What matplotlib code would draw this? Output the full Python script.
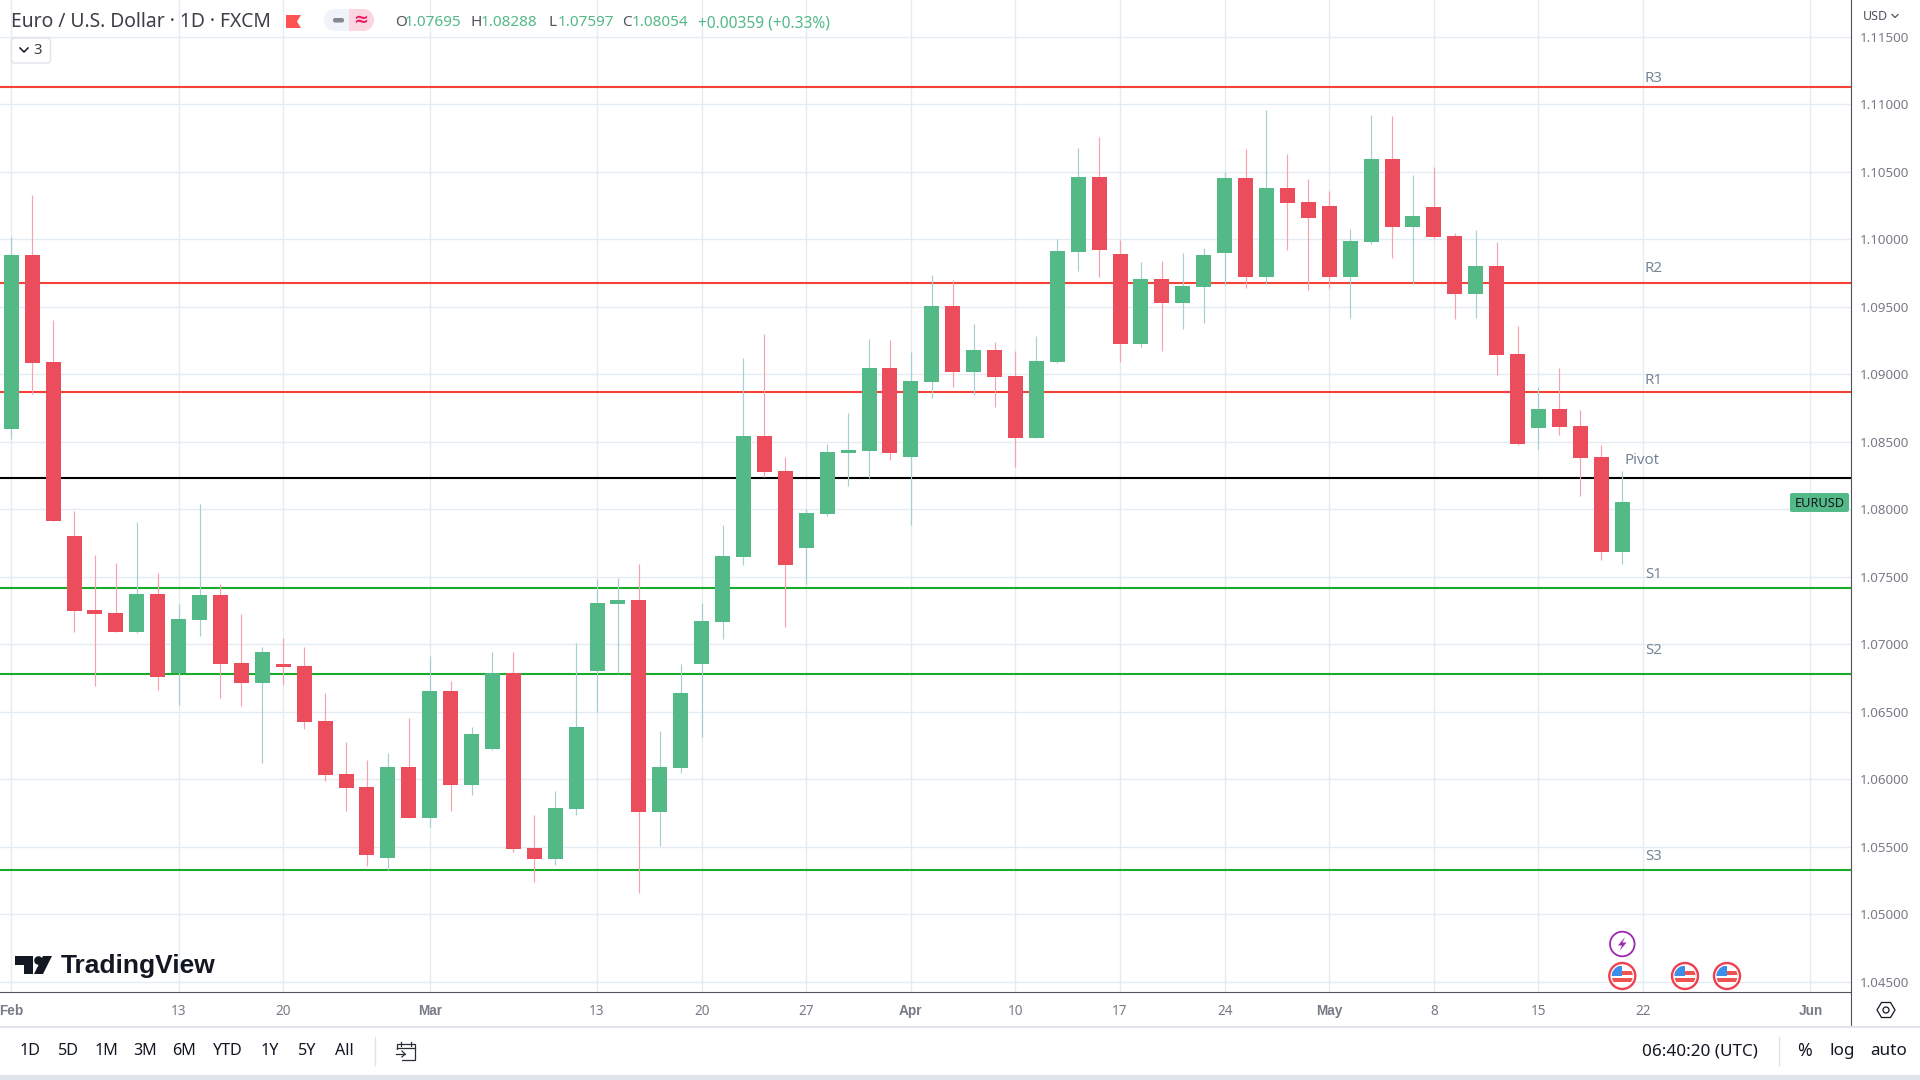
#!/usr/bin/env python3
import matplotlib
matplotlib.use('Agg')
import matplotlib.pyplot as plt
from matplotlib.patches import Circle, Polygon, Rectangle, FancyBboxPatch

# daily candles, EUR/USD
opens = [1.08598, 1.09884, 1.09091, 1.07802, 1.07254, 1.07232, 1.07091, 1.07373, 1.06784, 1.07180,
         1.07365, 1.06862, 1.06714, 1.06854, 1.06840, 1.06432, 1.06040, 1.05943, 1.05418, 1.06092,
         1.05714, 1.06654, 1.05958, 1.06225, 1.06788, 1.05492, 1.05410, 1.05781, 1.06803, 1.07299,
         1.07328, 1.05758, 1.06084, 1.06854, 1.07165, 1.07647, 1.08543, 1.08284, 1.07714, 1.07965,
         1.08417, 1.08432, 1.09047, 1.08387, 1.08943, 1.09506, 1.09017, 1.09180, 1.08987, 1.08528,
         1.09091, 1.09906, 1.10461, 1.09891, 1.09224, 1.09706, 1.09528, 1.09646, 1.09898, 1.10454,
         1.09721, 1.10380, 1.10276, 1.10246, 1.09721, 1.09980, 1.10594, 1.10091, 1.10239, 1.10024,
         1.09595, 1.09802, 1.09150, 1.08602, 1.08743, 1.08617, 1.08387, 1.07684]
highs = [1.10014, 1.10328, 1.09402, 1.07988, 1.07662, 1.07602, 1.07906, 1.07528, 1.07299, 1.08039,
         1.07447, 1.07225, 1.06980, 1.07047, 1.06980, 1.06640, 1.06277, 1.06143, 1.06195, 1.06454,
         1.06914, 1.06729, 1.06388, 1.06943, 1.06943, 1.05736, 1.05914, 1.07010, 1.07484, 1.07491,
         1.07595, 1.06358, 1.06854, 1.07306, 1.07884, 1.09121, 1.09298, 1.08387, 1.08002, 1.08484,
         1.08713, 1.09261, 1.09254, 1.09165, 1.09735, 1.09698, 1.09372, 1.09239, 1.09172, 1.09284,
         1.10002, 1.10676, 1.10757, 1.09995, 1.09832, 1.09839, 1.09898, 1.09935, 1.10498, 1.10669,
         1.10957, 1.10631, 1.10446, 1.10357, 1.10076, 1.10920, 1.10913, 1.10476, 1.10535, 1.10046,
         1.10069, 1.09980, 1.09358, 1.08906, 1.09047, 1.08736, 1.08476, 1.08284]
lows = [1.08521, 1.08854, 1.07914, 1.07091, 1.06692, 1.07091, 1.07084, 1.06662, 1.06551, 1.07062,
        1.06603, 1.06543, 1.06121, 1.06699, 1.06373, 1.05988, 1.05766, 1.05358, 1.05329, 1.05714,
        1.05647, 1.05766, 1.05884, 1.06217, 1.05462, 1.05240, 1.05366, 1.05736, 1.06499, 1.06788,
        1.05158, 1.05506, 1.06047, 1.06314, 1.07040, 1.07588, 1.08239, 1.07128, 1.07447, 1.07951,
        1.08173, 1.08232, 1.08365, 1.07884, 1.08824, 1.08906, 1.08847, 1.08758, 1.08313, 1.08528,
        1.09084, 1.09765, 1.09721, 1.09091, 1.09202, 1.09172, 1.09335, 1.09380, 1.09661, 1.09639,
        1.09669, 1.09920, 1.09624, 1.09639, 1.09417, 1.09965, 1.09861, 1.09669, 1.10002, 1.09409,
        1.09417, 1.08995, 1.08476, 1.08447, 1.08550, 1.08099, 1.07625, 1.07595]
closes = [1.09884, 1.09084, 1.07914, 1.07247, 1.07225, 1.07091, 1.07373, 1.06758, 1.07188, 1.07365,
          1.06854, 1.06714, 1.06943, 1.06832, 1.06425, 1.06032, 1.05936, 1.05440, 1.06092, 1.05714,
          1.06654, 1.05958, 1.06336, 1.06788, 1.05484, 1.05410, 1.05788, 1.06388, 1.07306, 1.07328,
          1.05758, 1.06092, 1.06640, 1.07173, 1.07654, 1.08543, 1.08276, 1.07588, 1.07973, 1.08424,
          1.08439, 1.09047, 1.08417, 1.08950, 1.09506, 1.09017, 1.09180, 1.08980, 1.08528, 1.09098,
          1.09913, 1.10461, 1.09920, 1.09224, 1.09706, 1.09528, 1.09654, 1.09884, 1.10454, 1.09721,
          1.10380, 1.10269, 1.10158, 1.09721, 1.09987, 1.10594, 1.10091, 1.10172, 1.10017, 1.09595,
          1.09802, 1.09143, 1.08484, 1.08743, 1.08610, 1.08380, 1.07684, 1.08054]

level_names = ['R3', 'R2', 'R1', 'Pivot', 'S1', 'S2', 'S3']
level_values = [1.11128, 1.09676, 1.08869, 1.08232, 1.07417, 1.06780, 1.05329]
level_colors = ['#f44336', '#f44336', '#f44336', '#000000', '#1aab2b', '#1aab2b', '#1aab2b']

price_ticks = [1.045, 1.05, 1.055, 1.06, 1.065, 1.07, 1.075, 1.08, 1.085, 1.09, 1.095, 1.10, 1.105, 1.11, 1.115]
date_bars = [0, 8, 13, 20, 28, 33, 38, 43, 48, 53, 58, 63, 68, 73, 78, 86]
date_labels = ['Feb', '13', '20', 'Mar', '13', '20', '27', 'Apr', '10', '17', '24', 'May', '8', '15', '22', 'Jun']
month_labels = ['Feb', 'Mar', 'Apr', 'May', 'Jun']
range_buttons = ['1D', '5D', '1M', '3M', '6M', 'YTD', '1Y', '5Y', 'All']
range_button_x = [30, 68, 106, 145, 184, 228, 270, 307, 344]
ohlc_header = [('O', '1.07695'), ('H', '1.08288'), ('L', '1.07597'), ('C', '1.08054')]

UP = '#53b987'
DOWN = '#eb4d5c'
UP_WICK = '#a5cfd0'
DOWN_WICK = '#f7a1ad'
GRID = '#e3ecf2'
AXIS_TEXT = '#787b86'
DARK = '#131722'
FONT = 'Noto Sans'
BOLD_FONT = 'Liberation Sans'

plt.rcParams['font.family'] = [FONT, 'DejaVu Sans']

W, H = 1920, 1080
fig = plt.figure(figsize=(W / 100, H / 100), dpi=100, facecolor='white')

# price pane
ax = fig.add_axes([0, (H - 992) / H, 1851 / W, 992 / H])
ax.set_xlim(-0.54, 87.94)
ax.set_ylim(1.04425, 1.11772)
ax.set_axisbelow(True)
ax.grid(True, color=GRID, lw=1.0)
for s in ax.spines.values():
    s.set_visible(False)

ax.set_yticks(price_ticks)
ax.set_yticklabels([f'{p:.5f}' for p in price_ticks])
ax.yaxis.tick_right()
ax.tick_params(axis='y', length=0, pad=6.5, labelsize=9.6, labelcolor=AXIS_TEXT)
ax.set_xticks(date_bars)
ax.set_xticklabels(date_labels)
ax.tick_params(axis='x', length=0, pad=8.3, labelsize=9.8, labelcolor=AXIS_TEXT)
for lab in ax.get_xticklabels():
    if lab.get_text() in month_labels:
        lab.set_fontfamily(BOLD_FONT)
        lab.set_fontweight('bold')

for val, col in zip(level_values, level_colors):
    ax.axhline(val, color=col, lw=1.5, zorder=2)

for i, (o, h, l, c) in enumerate(zip(opens, highs, lows, closes)):
    up = c >= o
    ax.vlines(i, l, h, color=UP_WICK if up else DOWN_WICK, lw=0.85, zorder=3)
    ax.bar(i, abs(c - o), bottom=min(o, c), width=0.717, color=UP if up else DOWN, lw=0, zorder=4)

# everything around the pane is placed in pixels on a full overlay
ov = fig.add_axes([0, 0, 1, 1], facecolor='none')
ov.set_xlim(0, W)
ov.set_ylim(H, 0)
ov.axis('off')

level_label_y = [78, 268, 380, 460, 574, 650, 857]
for name, y in zip(level_names, level_label_y):
    x = 1645 if name != 'Pivot' else 1625
    ov.text(x, y, name, color='#758696', fontsize=10.8, ha='left', va='center')

ov.plot([0, 1851], [992, 992], color='#50535e', lw=0.8)
ov.plot([1851, 1851], [0, 1026], color='#50535e', lw=0.8)
ov.plot([0, W], [1026.5, 1026.5], color='#e0e3eb', lw=1.5)
ov.add_patch(Rectangle((0, 1075), W, 5, color='#e0e3eb', lw=0))
ov.plot([375, 375], [1037, 1065], color='#e0e3eb', lw=1)
ov.plot([1779, 1779], [1037, 1065], color='#e0e3eb', lw=1)

# header
ov.text(11, 22, 'Euro / U.S. Dollar · 1D · FXCM', color='#3d3f48', fontsize=13.9, ha='left', va='center')
ov.add_patch(Polygon([(286, 15), (301, 15), (297, 21.5), (301, 28), (286, 28)], color='#ff5252', lw=0))
ov.add_patch(Rectangle((335, 9), 14, 22, color='#f0f3fa', lw=0))
ov.add_patch(Circle((335, 20), 11, color='#f0f3fa', lw=0))
ov.add_patch(Rectangle((349, 9), 14, 22, color='#fbd5e0', lw=0))
ov.add_patch(Circle((363, 20), 11, color='#fbd5e0', lw=0))
ov.add_patch(FancyBboxPatch((333, 18), 11, 4.5, boxstyle='round,pad=0,rounding_size=2', color='#868993', lw=0))
ov.text(361, 20, '≈', color='#e91e63', fontsize=13, ha='center', va='center', fontweight='bold')

header_x = [395, 471, 548, 622]
for (k, v), x in zip(ohlc_header, header_x):
    ov.text(x, 23, k, color='#50535e', fontsize=11, ha='left', va='center')
    ov.text(x + 10, 23, v, color=UP, fontsize=11, ha='left', va='center')
ov.text(698, 23, '+0.00359 (+0.33%)', color=UP, fontsize=11.2, ha='left', va='center')

ov.add_patch(FancyBboxPatch((11.5, 38), 39, 25, boxstyle='round,pad=0,rounding_size=3', fc='white', ec='#e0e3eb', lw=1))
ov.plot([20, 24, 28], [48, 52, 48], color=DARK, lw=1.1)
ov.text(33, 50.5, '3', color='#3d3f48', fontsize=10.8, ha='left', va='center')

ov.text(1863, 16, 'USD', color='#50535e', fontsize=9, ha='left', va='center')
ov.plot([1892, 1895, 1898], [14.5, 17.5, 14.5], color='#50535e', lw=0.9)

# last price tag
ov.add_patch(FancyBboxPatch((1790, 493), 59, 19, boxstyle='round,pad=0,rounding_size=2', color=UP, lw=0))
ov.text(1819.5, 503.5, 'EURUSD', color=DARK, fontsize=9.2, ha='center', va='center')

# tradingview mark
ov.add_patch(Polygon([(15, 956), (33, 956), (33, 974), (24, 974), (24, 965), (15, 965)], color=DARK, lw=0))
ov.add_patch(Circle((38.5, 960.5), 4.3, color=DARK, lw=0))
ov.add_patch(Polygon([(43, 956), (52, 956), (43, 974), (34, 974)], color=DARK, lw=0))
ov.text(61, 966, 'TradingView', color=DARK, fontsize=19, ha='left', va='center', fontweight='bold', family=BOLD_FONT)

# calendar icon
ov.add_patch(Rectangle((397, 1044), 18, 16, fc='none', ec='#2a2e39', lw=0.9))
ov.add_patch(Rectangle((394, 1050), 8, 12, fc='white', ec='none'))
ov.plot([397, 415], [1048, 1048], color='#2a2e39', lw=0.9)
ov.plot([401, 401], [1042, 1046], color='#2a2e39', lw=0.9)
ov.plot([411, 411], [1042, 1046], color='#2a2e39', lw=0.9)
ov.plot([396, 405], [1054, 1054], color='#2a2e39', lw=0.9)
ov.plot([402, 405, 402], [1051, 1054, 1057], color='#2a2e39', lw=0.9)

for lab, x in zip(range_buttons, range_button_x):
    ov.text(x, 1051, lab, color=DARK, fontsize=11.6, ha='center', va='center')

ov.text(1700, 1051, '06:40:20 (UTC)', color=DARK, fontsize=12.3, ha='center', va='center')
ov.text(1804, 1051, '%', color=DARK, fontsize=12.8, ha='center', va='center')
ov.text(1842, 1051, 'log', color=DARK, fontsize=12.3, ha='center', va='center')
ov.text(1889, 1051, 'auto', color=DARK, fontsize=12.3, ha='center', va='center')

# settings hexagon
ov.add_patch(Polygon([(1877, 1010), (1881.5, 1002.5), (1890.5, 1002.5), (1895, 1010), (1890.5, 1017.5), (1881.5, 1017.5)],
                     fc='none', ec='#131722', lw=0.9))
ov.add_patch(Circle((1886, 1010), 3, fc='none', ec='#131722', lw=0.9))

# event markers
ov.add_patch(Circle((1622.3, 944), 12.3, fc='white', ec='#9c27b0', lw=1.3))
ov.add_patch(Polygon([(1625, 937), (1618, 945.5), (1622, 945.5), (1619.5, 951), (1626.5, 942.5), (1622.5, 942.5)],
                     color='#9c27b0', lw=0))
for cx in [1622.3, 1685, 1727]:
    inner = Circle((cx, 976), 10.5, transform=ov.transData)
    ov.add_patch(Circle((cx, 976), 13, fc='white', ec='#f0404f', lw=1.7))
    for dy, col in [(-10.5, '#ffffff'), (-5.5, '#ef5350'), (-1.5, '#ffffff'), (2, '#ef5350'), (6, '#ffffff')]:
        r = Rectangle((cx - 11, 976 + dy), 22, 5, color=col, lw=0)
        ov.add_patch(r)
        r.set_clip_path(inner)
    r = Rectangle((cx - 11, 965.5), 11, 10.5, color='#3b8fe8', lw=0)
    ov.add_patch(r)
    r.set_clip_path(inner)

fig.savefig('out.png', dpi=100)
